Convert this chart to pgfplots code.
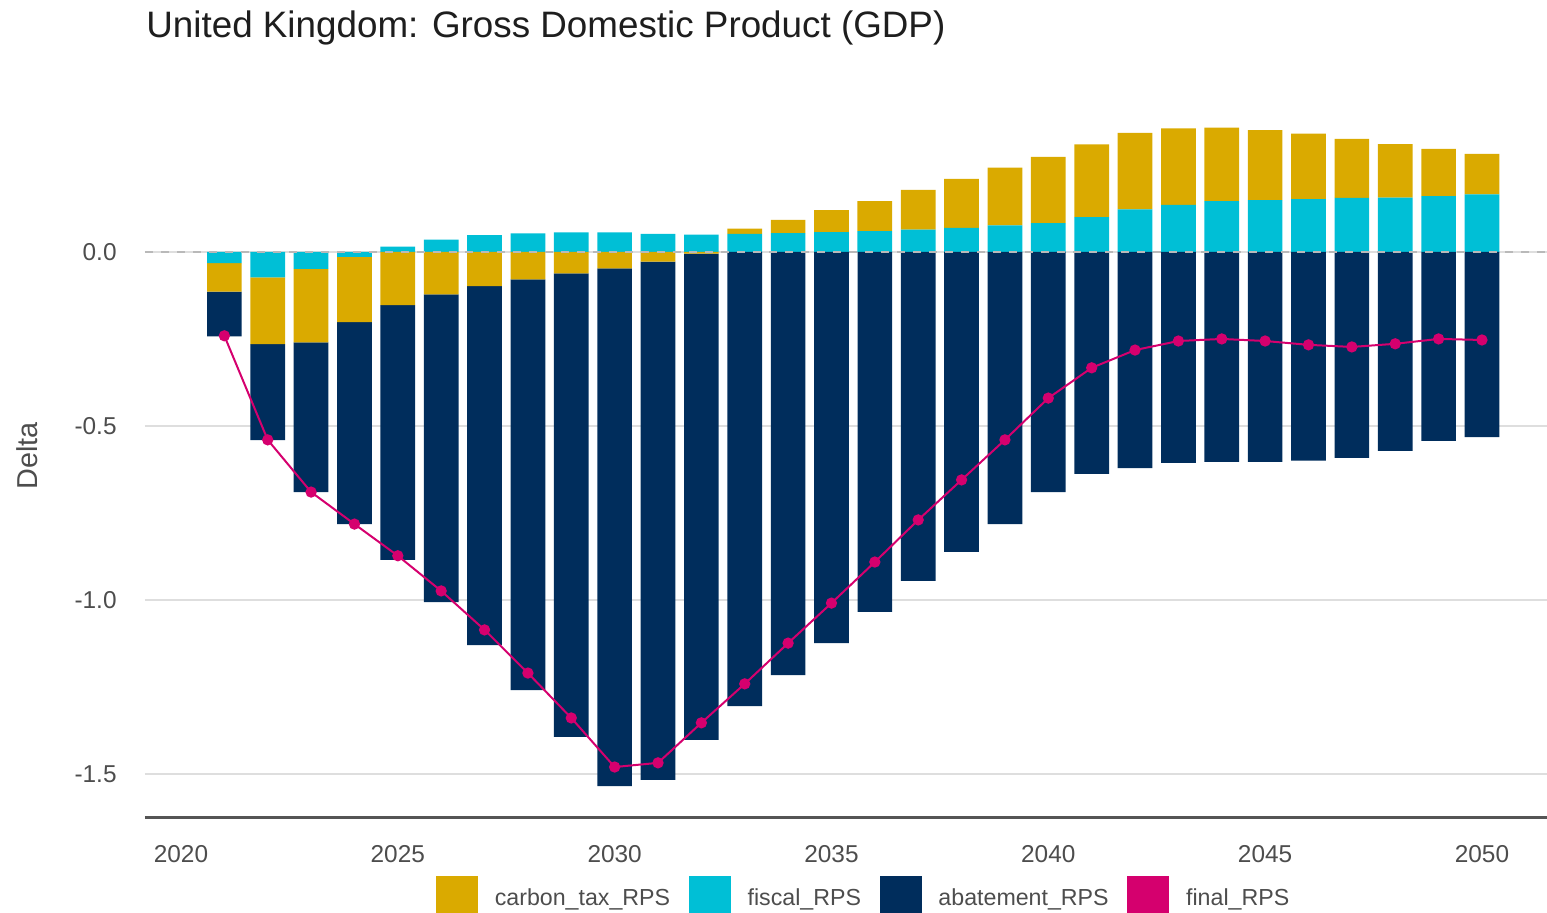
\documentclass[border=0pt]{standalone}
\usepackage{fontspec}
\setmainfont{Liberation Sans}
\usepackage{pgfplots}
\usepackage{pgfplotstable}
\pgfplotsset{compat=1.18}
\definecolor{cgold}{RGB}{218,170,0}
\definecolor{ccyan}{RGB}{0,191,214}
\definecolor{cnavy}{RGB}{0,45,92}
\definecolor{cmag}{RGB}{213,0,110}
\definecolor{gtxt}{RGB}{77,77,77}
\definecolor{gtitle}{RGB}{30,30,30}
\definecolor{cgrid}{RGB}{222,222,222}
\definecolor{caxis}{RGB}{85,85,85}
\definecolor{czero}{RGB}{185,185,185}

\pgfplotstableread{
year fpos fneg cpos cneg abat final
2021 0 -0.032 0 -0.082 -0.129 -0.241
2022 0 -0.073 0 -0.192 -0.276 -0.540
2023 0 -0.049 0 -0.211 -0.430 -0.690
2024 0 -0.014 0 -0.188 -0.580 -0.782
2025 0.015 0 0 -0.153 -0.732 -0.873
2026 0.035 0 0 -0.122 -0.884 -0.974
2027 0.048 0 0 -0.098 -1.032 -1.086
2028 0.053 0 0 -0.079 -1.180 -1.210
2029 0.056 0 0 -0.062 -1.331 -1.339
2030 0.056 0 0 -0.047 -1.488 -1.480
2031 0.052 0 0 -0.028 -1.489 -1.468
2032 0.050 0 0 -0.005 -1.397 -1.353
2033 0.052 0 0.015 0 -1.305 -1.241
2034 0.054 0 0.038 0 -1.216 -1.124
2035 0.057 0 0.063 0 -1.124 -1.009
2036 0.060 0 0.086 0 -1.034 -0.891
2037 0.064 0 0.114 0 -0.945 -0.770
2038 0.069 0 0.141 0 -0.862 -0.655
2039 0.076 0 0.166 0 -0.782 -0.540
2040 0.083 0 0.190 0 -0.690 -0.420
2041 0.100 0 0.209 0 -0.638 -0.333
2042 0.122 0 0.220 0 -0.621 -0.282
2043 0.135 0 0.220 0 -0.606 -0.256
2044 0.146 0 0.211 0 -0.603 -0.250
2045 0.149 0 0.201 0 -0.603 -0.256
2046 0.152 0 0.188 0 -0.600 -0.267
2047 0.155 0 0.170 0 -0.592 -0.273
2048 0.156 0 0.154 0 -0.572 -0.264
2049 0.160 0 0.136 0 -0.543 -0.250
2050 0.165 0 0.117 0 -0.532 -0.253
}\gdp

\begin{document}
\begin{tikzpicture}
\pgfplotsset{
  base/.style={
    at={(0,0)}, anchor=south west, scale only axis,
    width=701pt, height=361.7pt,
    xmin=2019.17, xmax=2051.5, ymin=-1.6264, ymax=0.452,
  }
}
% axis A: grid, bottom line, positive bars
\begin{axis}[base,
  ybar stacked, bar width=0.8,
  axis x line*=bottom, axis y line*=left,
  y axis line style={draw=none},
  x axis line style={draw=caxis, line width=1.5pt},
  xtick={2020,2025,2030,2035,2040,2045,2050},
  xticklabels={2020,2025,2030,2035,2040,2045,2050},
  ytick={-1.5,-1,-0.5,0},
  yticklabels={-1.5,-1.0,-0.5,0.0},
  major tick length=0pt,
  tick style={draw=none},
  xticklabel style={font=\fontsize{12.2}{14}\selectfont, text=gtxt, anchor=north, inner sep=0pt, yshift=-13.5pt},
  yticklabel style={font=\fontsize{12.2}{14}\selectfont, text=gtxt, anchor=east, inner sep=0pt, xshift=-14pt},
  ymajorgrids,
  grid style={draw=cgrid, line width=1pt},
]
\addplot[fill=ccyan, draw=none] table[x=year, y=fpos]{\gdp};
\addplot[fill=cgold, draw=none] table[x=year, y=cpos]{\gdp};
\end{axis}
% axis B: negative bars
\begin{axis}[base, hide axis,
  ybar stacked, bar width=0.8,
]
\addplot[fill=ccyan, draw=none] table[x=year, y=fneg]{\gdp};
\addplot[fill=cgold, draw=none] table[x=year, y=cneg]{\gdp};
\addplot[fill=cnavy, draw=none] table[x=year, y=abat]{\gdp};
\end{axis}
% axis C: zero line, final line, legend
\begin{axis}[base, axis lines=none, ticks=none,
  legend columns=4,
  legend style={at={(axis description cs:0.20756,-0.1092)}, anchor=west,
    draw=none, fill=none, inner sep=0pt, outer sep=0pt,
    font=\fontsize{11.6}{14}\selectfont, text=gtxt,
    nodes={inner sep=0pt},
    /tikz/every odd column/.append style={column sep=8.5pt},
    /tikz/every even column/.append style={column sep=9.3pt}},
]
\addplot[forget plot, draw=czero, line width=1pt, dash pattern=on 4pt off 4pt] coordinates {(2019.17,0) (2051.5,0)};
\addplot[forget plot, draw=cmag, line width=1pt, mark=*, mark size=2.3pt, mark options={fill=cmag, draw=none}] table[x=year, y=final]{\gdp};
\addlegendimage{legend image code/.code={\fill[cgold] (0pt,-9.25pt) rectangle (20.5pt,11.25pt);}}
\addlegendentry{carbon\_tax\_RPS}
\addlegendimage{legend image code/.code={\fill[ccyan] (0pt,-9.25pt) rectangle (20.5pt,11.25pt);}}
\addlegendentry{fiscal\_RPS}
\addlegendimage{legend image code/.code={\fill[cnavy] (0pt,-9.25pt) rectangle (20.5pt,11.25pt);}}
\addlegendentry{abatement\_RPS}
\addlegendimage{legend image code/.code={\fill[cmag] (0pt,-9.25pt) rectangle (20.5pt,11.25pt);}}
\addlegendentry{final\_RPS}
\end{axis}
\node[anchor=base west, font=\fontsize{18.4}{22}\selectfont, text=gtitle, inner sep=0pt] at (0.5pt,390pt) {United Kingdom: Gross Domestic Product (GDP)};
\node[rotate=90, font=\fontsize{14.4}{17}\selectfont, text=gtxt, inner sep=0pt] at (-59pt,181pt) {Delta};
\pgfresetboundingbox
\path (-72.5pt,-47.5pt) rectangle (701pt,409pt);
\end{tikzpicture}
\end{document}
